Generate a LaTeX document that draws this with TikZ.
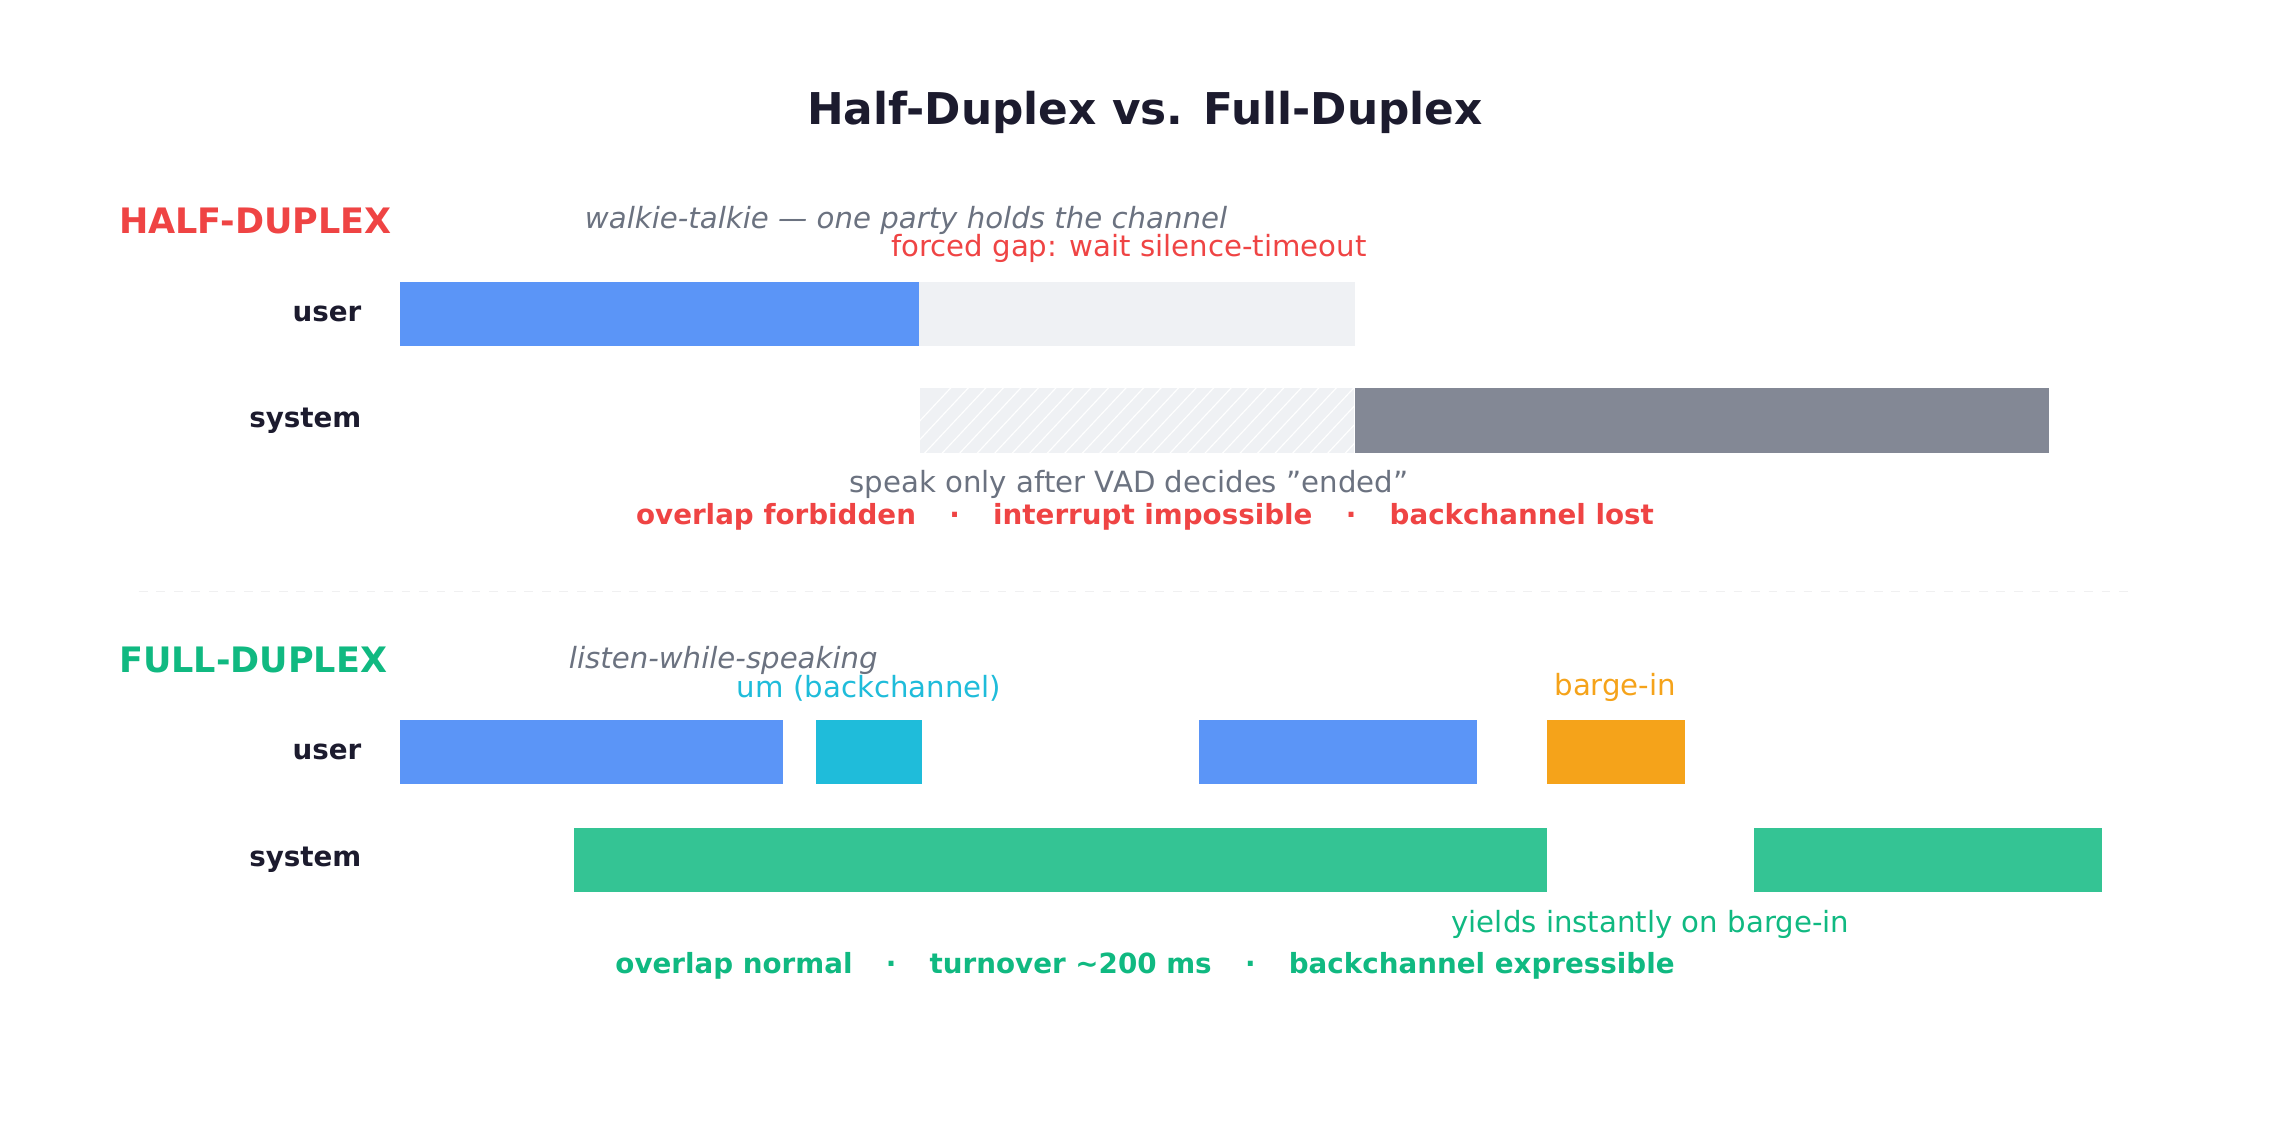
\documentclass[tikz,border=0pt]{standalone}
\usepackage{fontspec}
\setmainfont{DejaVu Sans}
\definecolor{ink}{HTML}{1C1B2E}
\definecolor{muted}{HTML}{6B7280}
\definecolor{hred}{HTML}{EF4444}
\definecolor{fgreen}{HTML}{10B981}
\definecolor{ublue}{HTML}{5B95F7}
\definecolor{bcyan}{HTML}{1FBCDA}
\definecolor{borange}{HTML}{F5A31A}
\definecolor{sgreen}{HTML}{34C494}
\definecolor{sgray}{HTML}{838895}
\definecolor{gapgray}{HTML}{EFF1F4}
\tikzset{
  bar/.style={draw=none},
  lane/.style={anchor=east, font=\fontsize{19}{19}\selectfont\bfseries, text=ink},
  head/.style={anchor=west, font=\fontsize{24}{24}\selectfont\bfseries},
  sub/.style={anchor=west, font=\fontsize{20}{20}\selectfont\itshape, text=muted},
  note/.style={font=\fontsize{20}{20}\selectfont},
  summary/.style={font=\fontsize{19}{19}\selectfont\bfseries}
}
\newcommand\sep{\hspace{1.2em}\textperiodcentered\hspace{1.2em}}
\begin{document}
\begin{tikzpicture}[x=1pt,y=-1pt]
\useasboundingbox (0,0) rectangle (1568,778);
\node (title) at (784,77) {\fontsize{30}{30}\selectfont\bfseries\color{ink}Half-Duplex vs. Full-Duplex};
%half-duplex
\node[head, text=hred] (hhead) at (78,151) {HALF-DUPLEX};
\node[sub] (hsub) at (397,151) {walkie-talkie — one party holds the channel};
\node[note, text=hred] (hgap) at (773,170) {forced gap: wait silence-timeout};
\node[lane] (huser) at (251,215) {user};
\node[lane] (hsys) at (251,288) {system};
\fill[ublue] (274,193) rectangle (629,237);
\fill[gapgray] (629,193) rectangle (928,237);
\begin{scope}
  \clip (630,266) rectangle (927,310);
  \fill[gapgray] (630,266) rectangle (927,310);
  \foreach \i in {0,12,...,360}
    \draw[white, line width=0.8pt] (600+\i,320) -- (660+\i,256);
\end{scope}
\fill[sgray] (928,266) rectangle (1403,310);
\node[note, text=muted] (hnote) at (773,332) {speak only after VAD decides "ended"};
\node[summary, text=hred] (hsum) at (784,354) {overlap forbidden\sep interrupt impossible\sep backchannel lost};
%divider
\draw[gapgray!80!gray!40, line width=1.2pt, dash pattern=on 6pt off 6pt] (95,405) -- (1457,405);
%full-duplex
\node[head, text=fgreen] (fhead) at (78,452) {FULL-DUPLEX};
\node[sub] (fsub) at (386,452) {listen-while-speaking};
\node[note, text=bcyan] (um) at (595,471) {um (backchannel)};
\node[note, text=borange] (barge) at (1106,471) {barge-in};
\node[lane] (fuser) at (251,515) {user};
\node[lane] (fsys) at (251,589) {system};
\fill[ublue] (274,493) rectangle (536,537);
\fill[bcyan] (559,493) rectangle (631,537);
\fill[ublue] (821,493) rectangle (1011,537);
\fill[borange] (1059,493) rectangle (1154,537);
\fill[sgreen] (393,567) rectangle (1059,611);
\fill[sgreen] (1201,567) rectangle (1439,611);
\node[note, text=fgreen] (yield) at (1130,633) {yields instantly on barge-in};
\node[summary, text=fgreen] (fsum) at (784,661) {overlap normal\sep turnover \textasciitilde200 ms\sep backchannel expressible};
\end{tikzpicture}
\end{document}
